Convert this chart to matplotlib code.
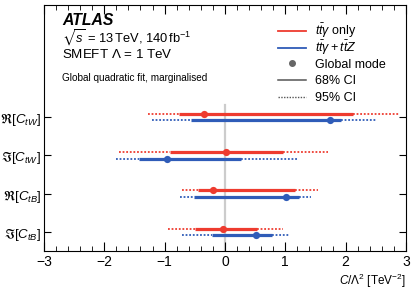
import matplotlib
matplotlib.use("Agg")
import matplotlib.pyplot as plt
from matplotlib.lines import Line2D
from matplotlib.legend import Legend
from matplotlib.ticker import MultipleLocator

plt.rcParams['font.family'] = ['Liberation Sans', 'DejaVu Sans']
plt.rcParams['mathtext.fontset'] = 'custom'
plt.rcParams['mathtext.rm'] = 'Liberation Sans'
plt.rcParams['mathtext.it'] = 'Liberation Sans:italic'
plt.rcParams['mathtext.bf'] = 'Liberation Sans:bold'
plt.rcParams['mathtext.fallback'] = 'stix'

# coefficients, top to bottom
params = [r"$\Re[C_{tW}]$", r"$\Im[C_{tW}]$", r"$\Re[C_{tB}]$", r"$\Im[C_{tB}]$"]
rows = [4, 3, 2, 1]

# ttgamma only
tta_mode = [-0.34, 0.02, -0.19, -0.03]
tta_lo68 = [-0.76, -0.91, -0.44, -0.50]
tta_hi68 = [2.12, 0.96, 1.16, 0.54]
tta_lo95 = [-1.27, -1.76, -0.71, -0.95]
tta_hi95 = [2.89, 1.71, 1.54, 0.97]

# ttgamma + ttZ
comb_mode = [1.74, -0.96, 1.02, 0.51]
comb_lo68 = [-0.56, -1.42, -0.52, -0.21]
comb_hi68 = [1.92, 0.27, 1.22, 0.78]
comb_lo95 = [-1.21, -1.81, -0.75, -0.71]
comb_hi95 = [2.52, 1.21, 1.42, 1.08]

red = '#ee3b2f'
blue = '#2f5cb8'
dotted = (0, (1.0, 1.0))

fig = plt.figure(figsize=(4.15, 2.9), dpi=100)
ax = fig.add_axes([0.106, 0.134, 0.872, 0.849])

ax.plot([0, 0], [0.5, 4.3], color='#cccccc', lw=1.6, zorder=0)


def draw(mode, lo68, hi68, lo95, hi95, off, col):
    for i, y in enumerate(rows):
        yy = y + off
        ax.plot([lo95[i], lo68[i]], [yy, yy], color=col, lw=1.3, ls=dotted)
        ax.plot([hi68[i], hi95[i]], [yy, yy], color=col, lw=1.3, ls=dotted)
        ax.plot([lo68[i], hi68[i]], [yy, yy], color=col, lw=2.3, solid_capstyle='butt')
        ax.plot(mode[i], yy, 'o', color=col, ms=5.2, mew=0)


draw(tta_mode, tta_lo68, tta_hi68, tta_lo95, tta_hi95, 0.085, red)
draw(comb_mode, comb_lo68, comb_hi68, comb_lo95, comb_hi95, -0.09, blue)

ax.set_xlim(-3, 3)
ax.set_ylim(0.5, 6.92)
ax.set_yticks(rows)
ax.set_yticklabels(params, fontsize=9.5)
ax.xaxis.set_major_locator(MultipleLocator(1))
ax.xaxis.set_minor_locator(MultipleLocator(0.2))
ax.tick_params(axis='x', which='major', direction='in', length=6.5, top=True, labelsize=10, pad=3)
ax.tick_params(axis='x', which='minor', direction='in', length=3.3, top=True)
ax.tick_params(axis='y', which='major', direction='in', length=5, right=True, pad=2)
ax.tick_params(axis='y', which='minor', left=False, right=False)
ax.set_xlabel(r"$C/\Lambda^2$ [TeV$^{-2}$]", fontsize=8.5, loc='right', labelpad=2)

ax.text(0.05, 0.918, "ATLAS", transform=ax.transAxes, fontsize=11.3,
        fontweight='bold', fontstyle='italic', va='baseline')
ax.text(0.05, 0.845, r"$\sqrt{s}$ = 13$\,$TeV, 140$\,$fb$^{-1}$", transform=ax.transAxes,
        fontsize=9.3, va='baseline')
ax.text(0.05, 0.785, r"SMEFT $\Lambda$ = 1 TeV", transform=ax.transAxes,
        fontsize=9.6, va='baseline')
ax.text(0.05, 0.692, "Global quadratic fit, marginalised", transform=ax.transAxes,
        fontsize=7.2, va='baseline')

# legend: one entry per row so the rows are evenly spaced
handles = [
    Line2D([], [], color=red, lw=1.3),
    Line2D([], [], color=blue, lw=1.3),
    Line2D([], [], color='#666666', marker='o', ls='none', ms=4),
    Line2D([], [], color='#555555', lw=1.1),
    Line2D([], [], color='#555555', lw=1.0, ls=dotted),
]
labels = [r"$t\bar{t}\gamma$ only", r"$t\bar{t}\gamma + t\bar{t}Z$",
          "Global mode", "68% CI", "95% CI"]
for i, (h, l) in enumerate(zip(handles, labels)):
    leg = Legend(ax, [h], [l], loc='center left', bbox_to_anchor=(0.646, 0.894 - i * 0.068),
                 frameon=False, fontsize=9, handlelength=2.25, handletextpad=0.75,
                 borderaxespad=0, borderpad=0)
    ax.add_artist(leg)

fig.savefig("out.png", dpi=100)
